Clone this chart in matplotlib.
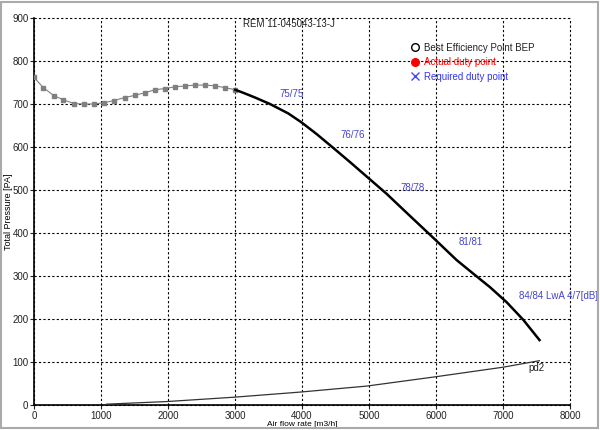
import matplotlib
matplotlib.use("Agg")
import matplotlib.pyplot as plt
from matplotlib.lines import Line2D
from matplotlib.patches import Rectangle

plt.rcParams['font.family'] = ['Liberation Sans', 'DejaVu Sans']

# low-flow part of the fan curve (gray, with markers)
flow_low = [0, 139, 300, 437, 597, 746, 896, 1045, 1194, 1353, 1503, 1652,
            1801, 1950, 2110, 2259, 2408, 2557, 2706, 2856, 3005]
press_low = [762, 738, 719, 710, 701, 700, 700, 703, 708, 715, 720, 726,
             733, 736, 740, 742, 744, 744, 742, 738, 733]

# working part of the fan curve (thick black)
flow_high = [3005, 3124, 3300, 3522, 3796, 3995, 4219, 4443, 4716, 4990,
             5264, 5562, 5985, 6308, 6607, 6806, 7055, 7303, 7545]
press_high = [733, 726, 715, 700, 678, 657, 630, 601, 565, 528,
              491, 447, 385, 337, 299, 274, 239, 198, 151]

# dynamic pressure pd2
flow_pd2 = [1085, 1980, 2975, 3970, 4966, 6010, 7005, 7542]
press_pd2 = [2, 8, 18, 30, 44, 66, 88, 103]

# sound labels
lbl_text = ["75/75", "76/76", "78/78", "81/81", "84/84 LwA 4/7[dB]"]
lbl_x = [3670, 4567, 5463, 6343, 7239]
lbl_y = [723, 628, 505, 379, 253]

fig = plt.figure(figsize=(6, 4.3), dpi=100)
ax = fig.add_axes([34/600, 1-405/430, 536/600, 387/430])

ax.plot(flow_low, press_low, color='#808080', lw=0.8, marker='s', ms=2.2,
        mfc='#808080', mec='#808080', zorder=3)
ax.plot(flow_high, press_high, color='black', lw=1.8, zorder=3)
ax.plot(flow_pd2, press_pd2, color='#333333', lw=0.9, zorder=3)

for t, x, y in zip(lbl_text, lbl_x, lbl_y):
    ax.text(x, y, t, color='#4444cc', fontsize=7, va='center', ha='left',
            clip_on=False)

ax.text(7500, 87, "pd2", color='#222222', fontsize=7, va='center', ha='center')
ax.text(3119, 886, "REM 11-045043-13-J", color='#222222', fontsize=7,
        va='center', ha='left')

ax.set_xlim(0, 8000)
ax.set_ylim(0, 900)
ax.set_xticks(range(0, 8001, 1000))
ax.set_yticks(range(0, 901, 100))
ax.tick_params(labelsize=7, length=3, colors='#222222', pad=1)
ax.grid(True, color='black', linestyle=(0, (2, 2)), linewidth=0.8)
for gl in ax.get_xgridlines() + ax.get_ygridlines():
    gl.set_clip_on(False)
ax.set_axisbelow(True)
for s in ['top', 'right']:
    ax.spines[s].set_visible(False)
for s in ['left', 'bottom']:
    ax.spines[s].set_linewidth(1.2)

ax.set_xlabel("Air flow rate [m3/h]", fontsize=6, labelpad=0)
ax.set_ylabel("Total Pressure [PA]", fontsize=6.5, va='center')
ax.yaxis.set_label_coords(-0.048, 0.5)

handles = [
    Line2D([], [], ls='none', marker='o', mfc='white', mec='black', ms=5.5),
    Line2D([], [], ls='none', marker='o', mfc='red', mec='red', ms=5.5),
    Line2D([], [], ls='none', marker='x', color='#4444ff', ms=6),
]
leg = ax.legend(handles, ["Best Efficiency Point BEP", "Actual duty point",
                          "Required duty point"],
                loc='upper left', bbox_to_anchor=(405/600, 1-38/430),
                bbox_transform=fig.transFigure, frameon=False, fontsize=7,
                handlelength=1, handletextpad=0.5, labelspacing=0.45,
                borderpad=0)
for txt, c in zip(leg.get_texts(), ['#222222', 'red', '#3333ee']):
    txt.set_color(c)

fig.patches.append(Rectangle((0.002, 0.004), 0.994, 0.992,
                             transform=fig.transFigure, fill=False,
                             edgecolor='#aaaaaa', lw=1.5))

fig.savefig("out.png", dpi=100)
